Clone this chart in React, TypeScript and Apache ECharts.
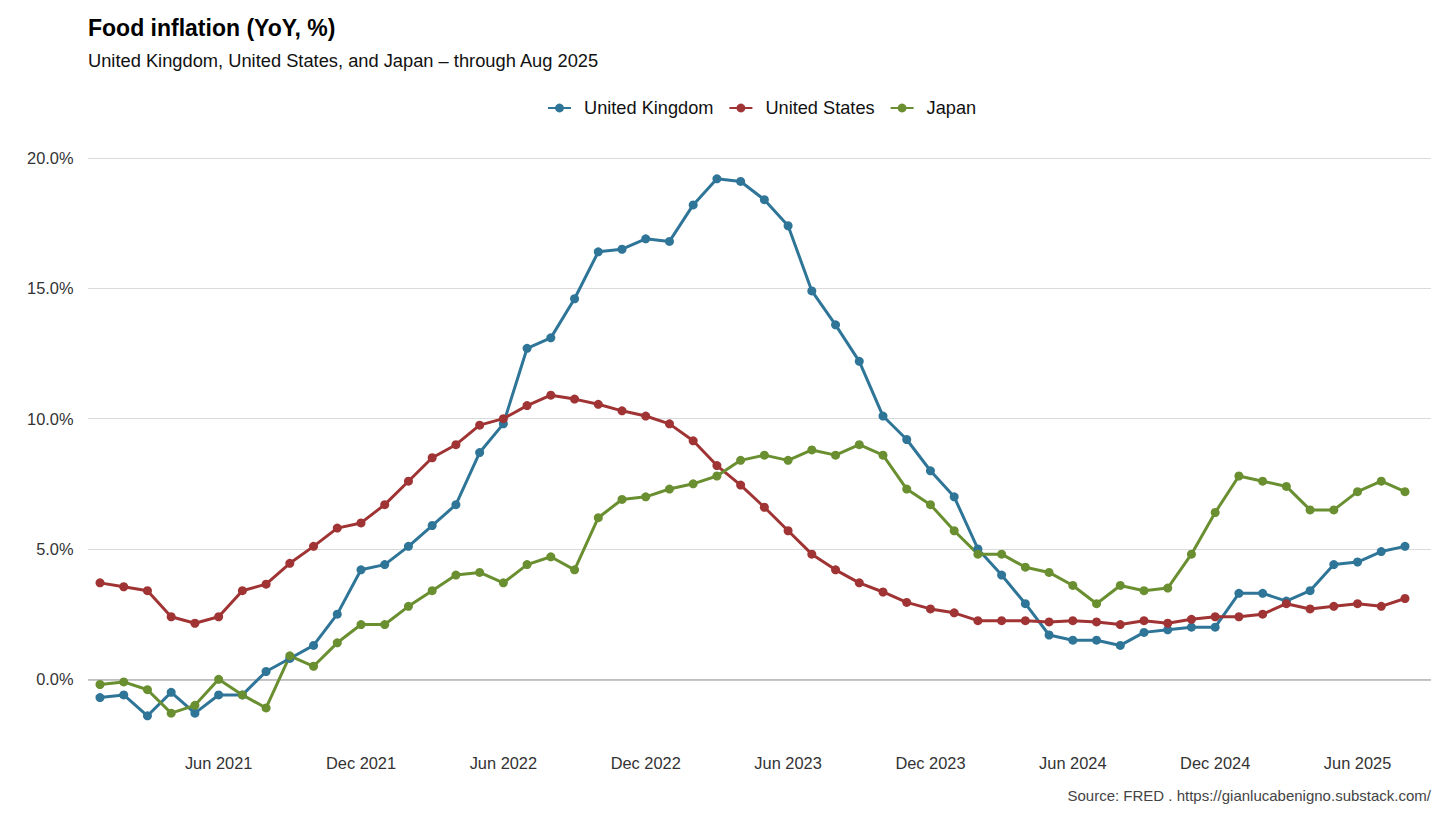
import React, { useEffect, useRef } from "react";
import * as echarts from "echarts";

const months = [
  "Jan 2021","Feb 2021","Mar 2021","Apr 2021","May 2021","Jun 2021","Jul 2021","Aug 2021","Sep 2021","Oct 2021","Nov 2021","Dec 2021",
  "Jan 2022","Feb 2022","Mar 2022","Apr 2022","May 2022","Jun 2022","Jul 2022","Aug 2022","Sep 2022","Oct 2022","Nov 2022","Dec 2022",
  "Jan 2023","Feb 2023","Mar 2023","Apr 2023","May 2023","Jun 2023","Jul 2023","Aug 2023","Sep 2023","Oct 2023","Nov 2023","Dec 2023",
  "Jan 2024","Feb 2024","Mar 2024","Apr 2024","May 2024","Jun 2024","Jul 2024","Aug 2024","Sep 2024","Oct 2024","Nov 2024","Dec 2024",
  "Jan 2025","Feb 2025","Mar 2025","Apr 2025","May 2025","Jun 2025","Jul 2025","Aug 2025",
];

const ukValues = [
  -0.7, -0.6, -1.4, -0.5, -1.3, -0.6, -0.6, 0.3, 0.8, 1.3, 2.5, 4.2,
  4.4, 5.1, 5.9, 6.7, 8.7, 9.8, 12.7, 13.1, 14.6, 16.4, 16.5, 16.9,
  16.8, 18.2, 19.2, 19.1, 18.4, 17.4, 14.9, 13.6, 12.2, 10.1, 9.2, 8.0,
  7.0, 5.0, 4.0, 2.9, 1.7, 1.5, 1.5, 1.3, 1.8, 1.9, 2.0, 2.0,
  3.3, 3.3, 3.0, 3.4, 4.4, 4.5, 4.9, 5.1,
];

const usValues = [
  3.7, 3.55, 3.4, 2.4, 2.15, 2.4, 3.4, 3.65, 4.45, 5.1, 5.8, 6.0,
  6.7, 7.6, 8.5, 9.0, 9.75, 10.0, 10.5, 10.9, 10.75, 10.55, 10.3, 10.1,
  9.8, 9.15, 8.2, 7.45, 6.6, 5.7, 4.8, 4.2, 3.7, 3.35, 2.95, 2.7,
  2.55, 2.25, 2.25, 2.25, 2.2, 2.25, 2.2, 2.1, 2.25, 2.15, 2.3, 2.4,
  2.4, 2.5, 2.9, 2.7, 2.8, 2.9, 2.8, 3.1,
];

const japanValues = [
  -0.2, -0.1, -0.4, -1.3, -1.0, 0.0, -0.6, -1.1, 0.9, 0.5, 1.4, 2.1,
  2.1, 2.8, 3.4, 4.0, 4.1, 3.7, 4.4, 4.7, 4.2, 6.2, 6.9, 7.0,
  7.3, 7.5, 7.8, 8.4, 8.6, 8.4, 8.8, 8.6, 9.0, 8.6, 7.3, 6.7,
  5.7, 4.8, 4.8, 4.3, 4.1, 3.6, 2.9, 3.6, 3.4, 3.5, 4.8, 6.4,
  7.8, 7.6, 7.4, 6.5, 6.5, 7.2, 7.6, 7.2,
];

const xTickLabels = ["Jun 2021", "Dec 2021", "Jun 2022", "Dec 2022", "Jun 2023", "Dec 2023", "Jun 2024", "Dec 2024", "Jun 2025"];
const yTickValues = [0, 5, 10, 15, 20];

const seriesDefs = [
  { name: "United Kingdom", values: ukValues, color: "#2E7598" },
  { name: "United States", values: usValues, color: "#A03333" },
  { name: "Japan", values: japanValues, color: "#6A8F30" },
];

const FONT = "'Liberation Sans', Arial, Helvetica, sans-serif";

export default function App() {
  const ref = useRef<HTMLDivElement>(null);

  useEffect(() => {
    document.body.style.margin = "0";
    if (!ref.current) return;
    const chart = echarts.init(ref.current, undefined, { renderer: "svg" });

    const xTickPositions = xTickLabels.map((l) => months.indexOf(l));

    const option: any = {
      animation: false,
      backgroundColor: "#ffffff",
      textStyle: { fontFamily: FONT },
      title: [
        {
          text: "Food inflation (YoY, %)",
          left: 88,
          top: 16,
          padding: 0,
          textStyle: { fontFamily: FONT, fontSize: 23, fontWeight: "bold", color: "#000000" },
        },
        {
          text: "United Kingdom, United States, and Japan \u2013 through Aug 2025",
          left: 88,
          top: 51,
          padding: 0,
          textStyle: { fontFamily: FONT, fontSize: 18.3, fontWeight: "normal", color: "#111111" },
        },
        {
          text: "Source: FRED . https://gianlucabenigno.substack.com/",
          right: 25,
          top: 788,
          padding: 0,
          textStyle: { fontFamily: FONT, fontSize: 15, fontWeight: "normal", color: "#444444" },
        },
      ],
      legend: {
        data: seriesDefs.map((s) => s.name),
        left: 547,
        top: 99,
        padding: 0,
        itemWidth: 23,
        itemHeight: 11,
        itemGap: 15,
        textStyle: { fontFamily: FONT, fontSize: 18.2, color: "#111111", padding: [0, 0, 0, 8] },
      },
      grid: { left: 88, right: 25, top: 150, bottom: 82, containLabel: false },
      xAxis: {
        type: "value",
        min: -0.506,
        max: 56.096,
        axisLine: { show: false },
        axisTick: { show: false, customValues: xTickPositions },
        splitLine: { show: false },
        axisLabel: {
          customValues: xTickPositions,
          margin: 20,
          fontSize: 16.4,
          color: "#333333",
          fontFamily: FONT,
          formatter: (v: number) => {
            const i = xTickPositions.indexOf(Math.round(v));
            return i >= 0 ? xTickLabels[i] : "";
          },
        },
      },
      yAxis: {
        type: "value",
        min: -2.137,
        max: 20.307,
        axisLine: { show: false },
        axisTick: { show: false, customValues: yTickValues },
        splitLine: { show: true, lineStyle: { color: "#dadada", width: 1 } },
        axisLabel: {
          customValues: yTickValues,
          margin: 14.5,
          fontSize: 16.4,
          color: "#333333",
          fontFamily: FONT,
          formatter: (v: number) => v.toFixed(1) + "%",
        },
      },
      series: [
        {
          name: "zero",
          type: "line",
          data: [],
          z: 1,
          silent: true,
          markLine: {
            silent: true,
            symbol: "none",
            z: 1,
            label: { show: false },
            lineStyle: { color: "#b5b5b5", width: 1.6, type: "solid" },
            data: [{ yAxis: 0 }],
          },
        },
        ...seriesDefs.map((s) => ({
          name: s.name,
          type: "line",
          z: 3,
          data: s.values.map((v, i) => [i, v]),
          symbol: "circle",
          symbolSize: 9,
          showSymbol: true,
          lineStyle: { color: s.color, width: 3 },
          itemStyle: { color: s.color },
          emphasis: { disabled: true },
        })),
      ],
    };

    chart.setOption(option);
    return () => chart.dispose();
  }, []);

  return <div ref={ref} style={{ width: 1456, height: 817 }} />;
}
